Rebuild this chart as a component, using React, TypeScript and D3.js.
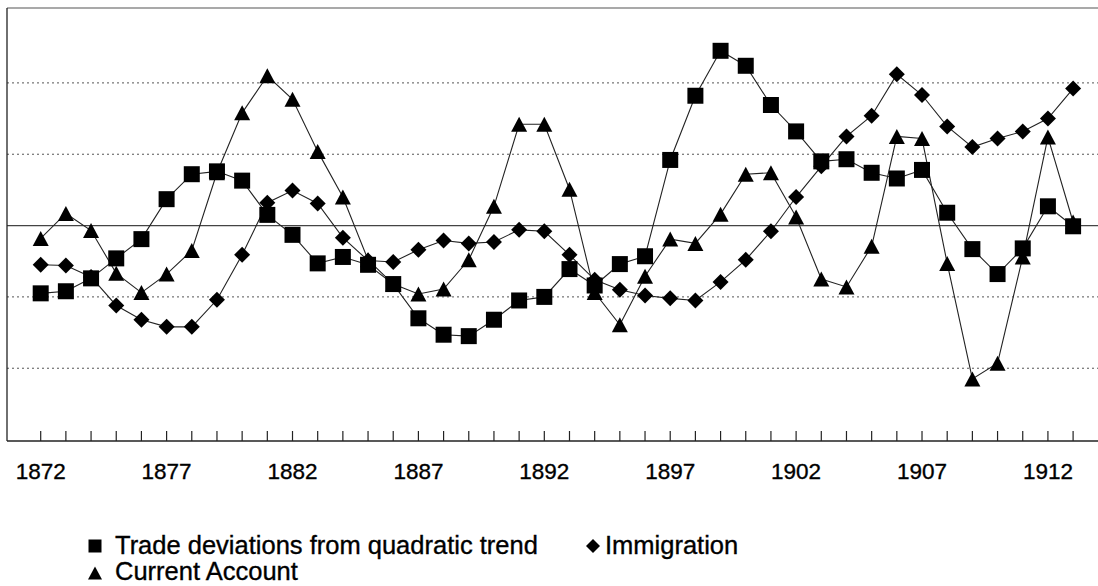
import React from "react";
import * as d3 from "d3";

const years: number[] = d3.range(1872, 1914);
const tickLabels: number[] = [1872, 1877, 1882, 1887, 1892, 1897, 1902, 1907, 1912];
const gridValues: number[] = [-2, -1, 1, 2];

const trade: number[] = [
  -0.95, -0.92, -0.74, -0.46, -0.19, 0.37, 0.72, 0.76, 0.63, 0.15,
  -0.13, -0.53, -0.44, -0.55, -0.82, -1.3, -1.53, -1.55, -1.32, -1.05,
  -1.0, -0.61, -0.84, -0.54, -0.43, 0.92, 1.82, 2.45, 2.24, 1.69,
  1.32, 0.9, 0.93, 0.74, 0.66, 0.78, 0.18, -0.33, -0.68, -0.32,
  0.27, -0.01,
];

const immigration: number[] = [
  -0.55, -0.56, -0.72, -1.12, -1.32, -1.42, -1.42, -1.04, -0.41, 0.32,
  0.49, 0.31, -0.17, -0.49, -0.51, -0.34, -0.21, -0.25, -0.23, -0.06,
  -0.08, -0.41, -0.76, -0.9, -0.98, -1.02, -1.05, -0.79, -0.48, -0.08,
  0.4, 0.83, 1.25, 1.54, 2.12, 1.83, 1.39, 1.1, 1.22, 1.32,
  1.5, 1.92,
];

const currentAccount: number[] = [
  -0.18, 0.17, -0.07, -0.67, -0.94, -0.68, -0.35, 0.74, 1.58, 2.1,
  1.77, 1.04, 0.4, -0.48, -0.82, -0.96, -0.89, -0.48, 0.27, 1.42,
  1.42, 0.51, -0.94, -1.39, -0.71, -0.19, -0.25, 0.16, 0.72, 0.74,
  0.12, -0.75, -0.86, -0.29, 1.25, 1.22, -0.53, -2.15, -1.93, -0.44,
  1.24, 0.05,
];

const W = 1098;
const H = 586;
const plotLeft = 7;
const plotRight = 1098;
const plotTop = 8;
const plotBottom = 441;

const x = d3.scaleLinear().domain([1872, 1913]).range([40.7, 1073.1]);
const y = d3.scaleLinear().domain([-3.02, 3.05]).range([plotBottom, plotTop]);

const lineGen = d3
  .line<number>()
  .x((_, i) => x(years[i]))
  .y((d) => y(d));

const squarePath = (cx: number, cy: number, s = 16) =>
  `M${cx - s / 2},${cy - s / 2}h${s}v${s}h${-s}Z`;
const diamondPath = (cx: number, cy: number, r = 8) =>
  `M${cx},${cy - r}L${cx + r},${cy}L${cx},${cy + r}L${cx - r},${cy}Z`;
const trianglePath = (cx: number, cy: number, w = 16, h = 15) =>
  `M${cx},${cy - h / 2}L${cx + w / 2},${cy + h / 2}L${cx - w / 2},${cy + h / 2}Z`;

const FONT = "'Liberation Sans', Arial, sans-serif";

export default function App() {
  return (
    <svg
      width={W}
      height={H}
      style={{ position: "absolute", left: 0, top: 0, background: "#fff" }}
    >
      <rect x={0} y={0} width={W} height={H} fill="#fff" />
      {/* gridlines */}
      {gridValues.map((g) => (
        <line
          key={g}
          x1={plotLeft}
          x2={plotRight}
          y1={y(g)}
          y2={y(g)}
          stroke="#555"
          strokeWidth={1}
          strokeDasharray="2,3"
        />
      ))}
      <line x1={plotLeft} x2={plotRight} y1={y(0)} y2={y(0)} stroke="#444" strokeWidth={1.2} />
      <line x1={plotLeft} x2={plotRight} y1={plotTop} y2={plotTop} stroke="#555" strokeWidth={1.2} />
      <line x1={plotLeft} x2={plotLeft} y1={plotTop} y2={plotBottom} stroke="#222" strokeWidth={1.3} />
      <line x1={plotLeft} x2={plotRight} y1={plotBottom} y2={plotBottom} stroke="#222" strokeWidth={1.3} />
      {/* ticks */}
      {years.map((yr) => (
        <line
          key={yr}
          x1={x(yr)}
          x2={x(yr)}
          y1={plotBottom}
          y2={plotBottom - 10}
          stroke="#222"
          strokeWidth={1.2}
        />
      ))}
      {tickLabels.map((t) => (
        <text
          key={t}
          x={x(t)}
          y={479}
          textAnchor="middle"
          fontFamily={FONT}
          fontSize={22.5}
          fill="#000"
          stroke="#000"
          strokeWidth={0.35}
        >
          {t}
        </text>
      ))}
      {/* lines */}
      <path d={lineGen(currentAccount) || ""} fill="none" stroke="#222" strokeWidth={1.1} />
      <path d={lineGen(immigration) || ""} fill="none" stroke="#222" strokeWidth={1.1} />
      <path d={lineGen(trade) || ""} fill="none" stroke="#222" strokeWidth={1.1} />
      {/* markers */}
      {currentAccount.map((v, i) => (
        <path key={"t" + i} d={trianglePath(x(years[i]), y(v))} fill="#000" />
      ))}
      {immigration.map((v, i) => (
        <path key={"d" + i} d={diamondPath(x(years[i]), y(v))} fill="#000" />
      ))}
      {trade.map((v, i) => (
        <path key={"s" + i} d={squarePath(x(years[i]), y(v))} fill="#000" />
      ))}
      {/* legend */}
      <path d={squarePath(95, 546, 13)} fill="#000" />
      <text x={115} y={554} fontFamily={FONT} fontSize={25.5} fill="#000" stroke="#000" strokeWidth={0.35}>
        Trade deviations from quadratic trend
      </text>
      <path d={diamondPath(593, 546, 7)} fill="#000" />
      <text x={605} y={554} fontFamily={FONT} fontSize={25.5} fill="#000" stroke="#000" strokeWidth={0.35}>
        Immigration
      </text>
      <path d={trianglePath(95, 573, 14, 13)} fill="#000" />
      <text x={115} y={580} fontFamily={FONT} fontSize={25.5} fill="#000" stroke="#000" strokeWidth={0.35}>
        Current Account
      </text>
    </svg>
  );
}
